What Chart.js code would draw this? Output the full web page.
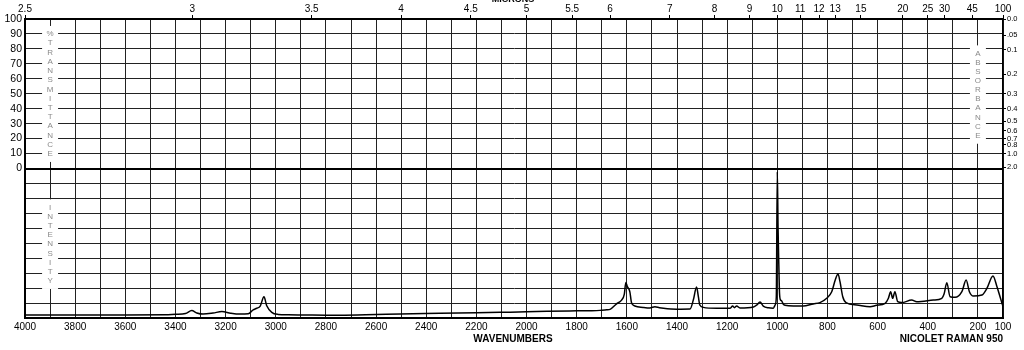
<!DOCTYPE html>
<html>
<head>
<meta charset="utf-8">
<script src="https://cdn.jsdelivr.net/npm/chart.js@4/dist/chart.umd.min.js"></script>
<style>
  html, body { margin: 0; padding: 0; background: #fff; }
  canvas { display: block; }
</style>
</head>
<body>
<canvas id="spectrum" width="1024" height="350"></canvas>
<script>
// Raman spectrum.
// Intensity is on a 0..100 scale occupying the lower half of the frame;
// the upper half is the (unused) %T grid, so the y scale runs 0..200.
const WAVENUMBERS = [
  4000, 3800, 3600, 3440, 3400, 3360, 3335, 3315, 3290, 3250, 3215, 3180, 3143, 3110,
  3090, 3076, 3062, 3047, 3036, 3016, 2990, 2950, 2800, 2744, 2600, 2504, 2345, 2200,
  2106, 2000, 1919, 1800, 1747, 1707, 1680, 1667, 1641, 1621, 1610, 1604, 1598, 1594,
  1588, 1581, 1568, 1535, 1508, 1488, 1470, 1454, 1402, 1348, 1335, 1322, 1315, 1309,
  1295, 1242, 1189, 1178, 1171, 1162, 1149, 1095, 1082, 1069, 1056, 1035, 1016, 1008,
  1004, 1000, 997, 994, 991, 987, 983, 976, 969, 936, 897, 857, 830, 803, 783, 769,
  758, 750, 739, 726, 683, 630, 604, 570, 557, 548, 540, 531, 520, 504, 464, 444,
  378, 344, 335, 324, 311, 291, 264, 247, 234, 218, 184, 164, 140, 124, 110, 100
];
const INTENSITY = [
  2.0, 2.0, 2.0, 2.1, 2.5, 3.0, 5.0, 3.4, 2.6, 3.3, 4.3, 3.2, 2.6, 2.8,
  5.5, 6.5, 8.0, 14.2, 8.2, 3.8, 2.4, 2.1, 1.9, 1.8, 2.3, 2.7, 3.1, 3.5,
  3.8, 4.1, 4.5, 4.8, 4.9, 5.1, 5.5, 5.8, 9.5, 12.0, 16.0, 23.8, 21.0, 20.0,
  17.5, 10.0, 8.0, 7.1, 6.7, 7.6, 6.9, 6.5, 5.9, 6.0, 12.0, 20.7, 14.5, 8.7,
  7.1, 6.5, 6.5, 8.0, 6.9, 8.0, 6.7, 7.4, 8.7, 10.7, 8.0, 6.8, 6.6, 9.0,
  14.0, 98.0, 60.0, 36.0, 16.0, 12.0, 11.5, 9.2, 8.5, 8.0, 8.0, 9.4, 10.3, 13.2, 17.6, 25.4,
  29.4, 24.3, 14.2, 10.3, 8.7, 7.6, 8.5, 9.8, 13.2, 17.6, 13.2, 17.6, 10.9, 10.3, 12.0, 10.9,
  12.0, 13.2, 16.0, 23.6, 14.2, 13.8, 17.6, 25.4, 17.6, 14.7, 15.4, 19.9, 28.1, 20.9, 13.2, 7.6
];

const X_LABELS = [4000, 3800, 3600, 3400, 3200, 3000, 2800, 2600, 2400, 2200, 2000,
                  1800, 1600, 1400, 1200, 1000, 800, 600, 400, 200, 100];
const MICRON_LABELS = ['2.5', '3', '3.5', '4', '4.5', '5', '5.5', '6', '7', '8', '9',
                       '10', '11', '12', '13', '15', '20', '25', '30', '45', '100'];
const TRANSMITTANCE_LABELS = [100, 90, 80, 70, 60, 50, 40, 30, 20, 10, 0];
const ABSORBANCE_VALUES = [0, 0.05, 0.1, 0.2, 0.3, 0.4, 0.5, 0.6, 0.7, 0.8, 1.0, 2.0];
const ABSORBANCE_LABELS = ['0.0', '.05', '0.1', '0.2', '0.3', '0.4', '0.5', '0.6', '0.7', '0.8', '1.0', '2.0'];

const GRID = '#222';
const FONT = 'Liberation Sans, Arial, sans-serif';

// Vertical captions with a white strip behind them, drawn over the grid.
const captionsPlugin = {
  id: 'captions',
  beforeDatasetsDraw(chart) {
    const { ctx, scales } = chart;
    const x = scales.x, y = scales.y;
    const columns = [
      { text: '%TRANSMITTANCE', at: 3900, from: y.getPixelForValue(190), step: 9.23 },
      { text: 'INTENSITY', at: 3900, from: y.getPixelForValue(74), step: 9.2 },
      { text: 'ABSORBANCE', at: 200, from: y.getPixelForValue(177), step: 9.15 }
    ];
    ctx.save();
    ctx.font = '8px ' + FONT;
    ctx.textAlign = 'center';
    ctx.textBaseline = 'middle';
    columns.forEach((c) => {
      const cx = x.getPixelForValue(c.at);
      const last = c.from + c.step * (c.text.length - 1);
      ctx.fillStyle = '#fff';
      ctx.fillRect(cx - 8, c.from - 8, 16, last - c.from + 16);
      ctx.fillStyle = '#8a8a8a';
      [...c.text].forEach((ch, i) => ctx.fillText(ch, cx, c.from + i * c.step));
    });
    ctx.restore();
  },
  afterDraw(chart) {
    const { ctx } = chart;
    ctx.save();
    ctx.fillStyle = '#000';
    ctx.font = 'bold 9px ' + FONT;
    ctx.textAlign = 'center';
    ctx.textBaseline = 'bottom';
    ctx.fillText('MICRONS', 513, 4);
    ctx.font = 'bold 10px ' + FONT;
    ctx.textBaseline = 'middle';
    ctx.fillText('WAVENUMBERS', 513, 339);
    ctx.textAlign = 'right';
    ctx.fillText('NICOLET RAMAN 950', 1003, 339);
    ctx.restore();
  }
};

new Chart(document.getElementById('spectrum'), {
  type: 'line',
  data: {
    datasets: [{
      data: WAVENUMBERS.map((w, i) => ({ x: w, y: INTENSITY[i] })),
      borderColor: '#000',
      borderWidth: 1.5,
      pointRadius: 0,
      cubicInterpolationMode: 'monotone',
      fill: false,
      xAxisID: 'x',
      yAxisID: 'y'
    }]
  },
  options: {
    responsive: false,
    animation: false,
    devicePixelRatio: 1,
    layout: { padding: 0 },
    plugins: { legend: { display: false }, tooltip: { enabled: false } },
    scales: {
      x: {
        type: 'linear', position: 'bottom', min: 100, max: 4000, reverse: true,
        afterBuildTicks: (s) => {
          const t = [];
          for (let v = 100; v <= 4000; v += 100) t.push({ value: v });
          s.ticks = t;
        },
        afterFit: (s) => { s.height = 32; },
        ticks: {
          autoSkip: false, maxRotation: 0, padding: 3, color: '#000',
          font: { family: FONT, size: 10 },
          callback: (v) => (X_LABELS.includes(v) ? String(v) : '')
        },
        grid: { color: GRID, lineWidth: 1, drawTicks: false },
        border: { color: '#000', width: 2 }
      },
      xTop: {
        type: 'linear', position: 'top', min: 100, max: 4000, reverse: true,
        afterBuildTicks: (s) => {
          s.ticks = MICRON_LABELS.map((m) => ({ value: 10000 / parseFloat(m) }));
        },
        afterFit: (s) => { s.height = 19; },
        ticks: {
          autoSkip: false, maxRotation: 0, padding: 0, color: '#000',
          font: { family: FONT, size: 10 },
          callback: (v, i) => MICRON_LABELS[i]
        },
        grid: { drawOnChartArea: false, tickLength: 4, color: '#000', lineWidth: 1 },
        border: { color: '#000', width: 2 }
      },
      y: {
        type: 'linear', position: 'left', min: 0, max: 200,
        afterBuildTicks: (s) => {
          const t = [];
          for (let v = 0; v <= 200; v += 10) t.push({ value: v });
          s.ticks = t;
        },
        afterFit: (s) => { s.width = 25; },
        ticks: {
          autoSkip: false, padding: 3, color: '#000',
          font: { family: FONT, size: 10.5 },
          callback: (v) => (TRANSMITTANCE_LABELS.includes(v - 100) ? String(v - 100) : '')
        },
        grid: {
          drawTicks: false,
          color: (c) => (c.tick && c.tick.value === 100 ? '#000' : GRID),
          lineWidth: (c) => (c.tick && c.tick.value === 100 ? 2 : 1)
        },
        border: { color: '#000', width: 2 }
      },
      yRight: {
        type: 'linear', position: 'right', min: 0, max: 200,
        afterBuildTicks: (s) => {
          s.ticks = ABSORBANCE_VALUES.map((a) => ({ value: 100 + 100 * Math.pow(10, -a) }));
        },
        afterFit: (s) => { s.width = 21; },
        ticks: {
          autoSkip: false, padding: 1, color: '#000',
          font: { family: FONT, size: 7.5 },
          callback: (v, i) => ABSORBANCE_LABELS[i]
        },
        grid: { drawOnChartArea: false, tickLength: 3, color: '#000', lineWidth: 1 },
        border: { color: '#000', width: 1.5 }
      }
    }
  },
  plugins: [captionsPlugin]
});
</script>
</body>
</html>
